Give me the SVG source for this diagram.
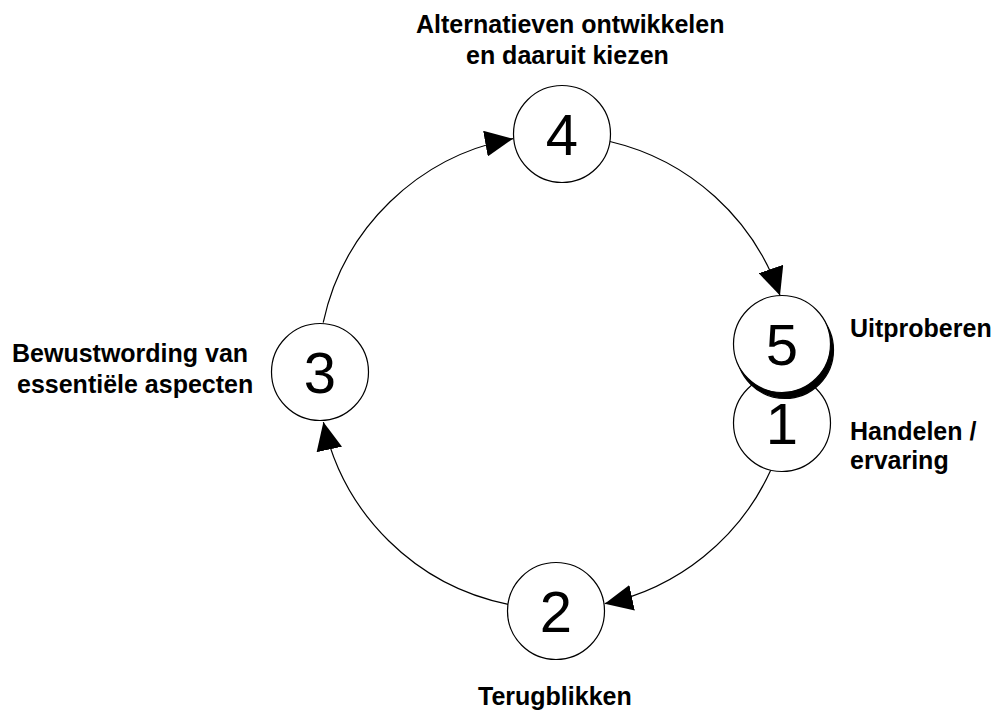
<svg xmlns="http://www.w3.org/2000/svg" width="996" height="711" viewBox="0 0 996 711">
<style>
.node circle{fill:#fff;stroke:#000;stroke-width:1.2}
.num{font-family:"Liberation Sans",Arial,sans-serif;font-size:58px;fill:#000;text-anchor:middle}
.lbl{font-family:"Liberation Sans",Arial,sans-serif;font-size:25px;font-weight:bold;fill:#000}
.conn path{fill:none;stroke:#000;stroke-width:1.2}
</style>
<defs>
<marker id="arr" markerUnits="userSpaceOnUse" markerWidth="28" markerHeight="26" viewBox="0 0 28 26" refX="28" refY="13" orient="auto">
<path d="M0,0 L28,13 L0,26 Z" fill="#000"/>
</marker>
</defs>
<rect width="996" height="711" fill="#fff"/>
<g id="connectors" class="conn">
<path d="M323.2,322.7 A237,237 0 0 1 513,138.7" marker-end="url(#arr)"/>
<path d="M609.9,141.5 A237,237 0 0 1 780,295.5" marker-end="url(#arr)"/>
<path d="M770.7,470.3 A237,237 0 0 1 604.7,603.7" marker-end="url(#arr)"/>
<path d="M508.2,604.3 A237,237 0 0 1 323.4,422.1" marker-end="url(#arr)"/>
</g>
<g id="node1" class="node">
<circle cx="782" cy="423" r="48.5"/>
<text class="num" x="782" y="444">1</text>
<text class="lbl" x="850" y="440">Handelen /</text>
<text class="lbl" x="850" y="469">ervaring</text>
</g>
<g id="node5" class="node">
<circle cx="785" cy="350" r="48.5" style="fill:#000;stroke:#000"/>
<circle cx="782" cy="344" r="48.5"/>
<text class="num" x="782" y="365">5</text>
<text class="lbl" x="850" y="337">Uitproberen</text>
</g>
<g id="node4" class="node">
<circle cx="562" cy="134" r="48.5"/>
<text class="num" x="562" y="155">4</text>
<text class="lbl" x="416" y="33">Alternatieven ontwikkelen</text>
<text class="lbl" x="466" y="64">en daaruit kiezen</text>
</g>
<g id="node3" class="node">
<circle cx="320" cy="372" r="48.5"/>
<text class="num" x="320" y="393">3</text>
<text class="lbl" x="12" y="362">Bewustwording van</text>
<text class="lbl" x="17" y="393">essentiële aspecten</text>
</g>
<g id="node2" class="node">
<circle cx="556" cy="611" r="48.5"/>
<text class="num" x="556" y="632">2</text>
<text class="lbl" x="478" y="705">Terugblikken</text>
</g>
</svg>
